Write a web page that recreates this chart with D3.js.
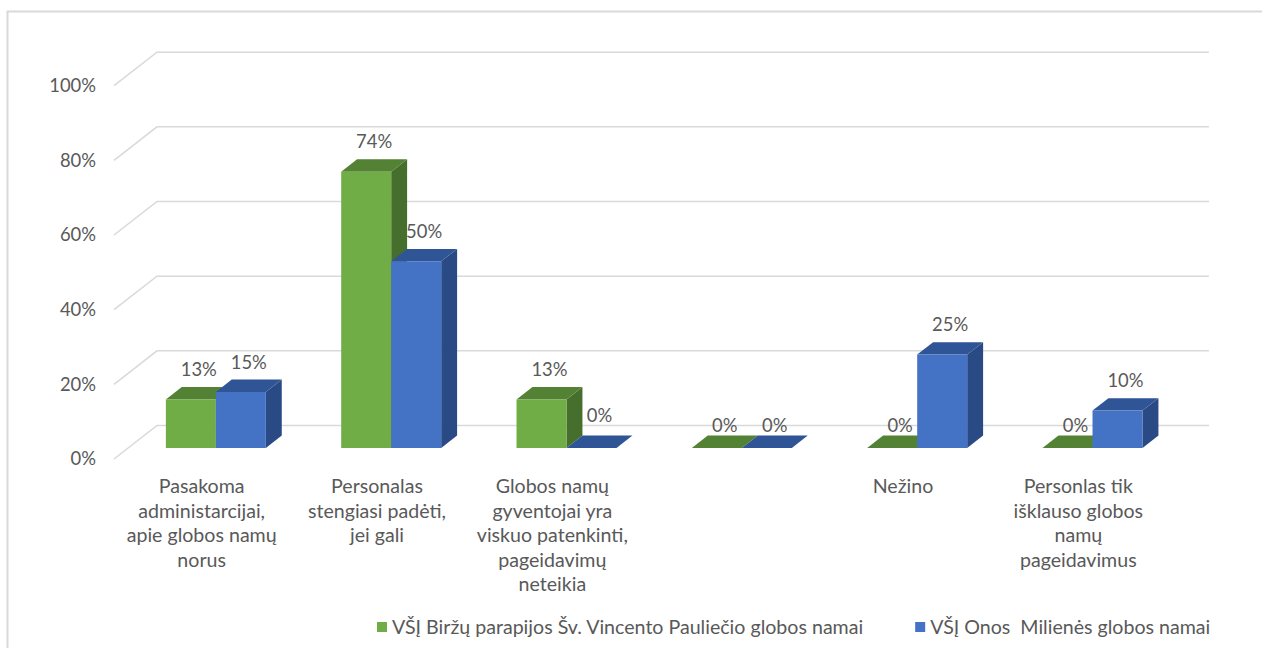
<!DOCTYPE html>
<html>
<head>
<meta charset="utf-8">
<script src="https://cdn.jsdelivr.net/npm/d3@7"></script>
<style>
  html, body { margin: 0; padding: 0; background: #ffffff; }
  svg { display: block; }
  text { font-family: Lato, "Open Sans", sans-serif; fill: #595959; }
</style>
</head>
<body>
<svg id="chart" width="1262" height="648"></svg>
<script>
// Category labels (wrapped lines), series and tick labels
const categories = [
  ["Pasakoma", "administarcijai,", "apie globos namų", "norus"],
  ["Personalas", "stengiasi padėti,", "jei gali"],
  ["Globos namų", "gyventojai yra", "viskuo patenkinti,", "pageidavimų", "neteikia"],
  [""],
  ["Nežino"],
  ["Personlas tik", "išklauso globos", "namų", "pageidavimus"]
];
const seriesNames = [
  "VŠĮ Biržų parapijos Šv. Vincento Pauliečio globos namai",
  "VŠĮ Onos  Milienės globos namai"
];
const birzaiValues = [13, 74, 13, 0, 0, 0];
const milienesValues = [15, 50, 0, 0, 25, 10];
const tickValues = [0, 20, 40, 60, 80, 100];
const tickLabels = ["0%", "20%", "40%", "60%", "80%", "100%"];

const palette = [
  { front: "#70ad47", top: "#548235", side: "#466f2d" },
  { front: "#4472c4", top: "#2f5597", side: "#2a4a85" }
];
const seriesValues = [birzaiValues, milienesValues];

const svg = d3.select("#chart");

// Outer chart frame
svg.append("path")
  .attr("d", "M7.5,700 L7.5,11.5 L1300,11.5")
  .attr("fill", "none")
  .attr("stroke", "#d9d9d9")
  .attr("stroke-width", 2);

// 3D oblique projection: depth z in [0,1] shifts right and up
const depthX = 43, depthY = -33.5;
const frontLeft = 114, frontRight = 1166;

const x = d3.scaleBand().domain(d3.range(categories.length)).range([frontLeft, frontRight]);
const y = d3.scaleLinear().domain([0, 100]).range([459, 459 - 373.3]);
const barWidth = 50;
const xs = d3.scaleBand().domain([0, 1]).range([-barWidth, barWidth]);
const zFront = 0.33, zBack = 0.70;

function proj(px, v, z) {
  return [px + depthX * z, y(v) + depthY * z];
}

// Side wall and back wall gridlines
const grid = svg.append("g");
tickValues.forEach(v => {
  const p0 = proj(frontLeft, v, 0);
  const p1 = proj(frontLeft, v, 1);
  const p2 = proj(frontRight, v, 1);
  grid.append("path")
    .attr("d", `M${p0[0]},${p0[1]} L${p1[0]},${p1[1]} L${p2[0]},${p2[1]}`)
    .attr("fill", "none")
    .attr("stroke", "#d9d9d9")
    .attr("stroke-width", 1.5);
});

// Value axis labels
const yAxis = d3.axisLeft(y)
  .tickValues(tickValues)
  .tickFormat((d, i) => tickLabels[i])
  .tickSize(0)
  .tickPadding(18);
const axisG = svg.append("g")
  .attr("transform", `translate(${frontLeft},0)`)
  .call(yAxis);
axisG.select(".domain").remove();
axisG.selectAll("text")
  .attr("font-size", 18.4)
  .attr("font-family", "Lato, 'Open Sans', sans-serif")
  .attr("fill", "#595959");

// Bars
const bars = svg.append("g");
const labels = svg.append("g");
const poly = pts => "M" + pts.map(p => p.join(",")).join("L") + "Z";

categories.forEach((cat, ci) => {
  const cx = x(ci) + x.bandwidth() / 2;
  seriesValues.forEach((vals, si) => {
    const v = vals[ci];
    const c = palette[si];
    const x0 = cx + xs(si);
    const x1 = x0 + xs.bandwidth();
    const fbl = proj(x0, 0, zFront), fbr = proj(x1, 0, zFront);
    const ftl = proj(x0, v, zFront), ftr = proj(x1, v, zFront);
    const btl = proj(x0, v, zBack), btr = proj(x1, v, zBack);
    const bbr = proj(x1, 0, zBack);
    // right side face
    if (v > 0) {
      bars.append("path").attr("d", poly([fbr, ftr, btr, bbr])).attr("fill", c.side);
    }
    // top face
    bars.append("path").attr("d", poly([ftl, ftr, btr, btl])).attr("fill", c.top);
    // front face
    if (v > 0) {
      bars.append("path").attr("d", poly([fbl, fbr, ftr, ftl])).attr("fill", c.front);
    }
    // value label above the top face
    const prevNonZero = si > 0 && seriesValues[si - 1][ci] > 0;
    const lift = v > 0 ? 11 : (prevNonZero ? 14 : 4);
    const lx = (ftl[0] + btr[0]) / 2;
    labels.append("text")
      .attr("x", lx)
      .attr("y", btl[1] - lift)
      .attr("text-anchor", "middle")
      .attr("font-size", 18.4)
      .text(v + "%");
  });

  // Category label
  const t = svg.append("text")
    .attr("text-anchor", "middle")
    .attr("font-size", 19.6);
  cat.forEach((line, li) => {
    t.append("tspan")
      .attr("x", cx)
      .attr("y", 493 + li * 24.6)
      .text(line);
  });
});

// Legend
const legend = svg.append("g");
let lxPos = 377;
seriesNames.forEach((name, si) => {
  legend.append("rect")
    .attr("x", lxPos).attr("y", 622)
    .attr("width", 10).attr("height", 10)
    .attr("fill", palette[si].front);
  const txt = legend.append("text")
    .attr("x", lxPos + 15).attr("y", 634)
    .attr("font-size", 19.6)
    .attr("xml:space", "preserve")
    .style("white-space", "pre")
    .text(name);
  lxPos = lxPos + 15 + txt.node().getComputedTextLength() + 52;
});
</script>
</body>
</html>
